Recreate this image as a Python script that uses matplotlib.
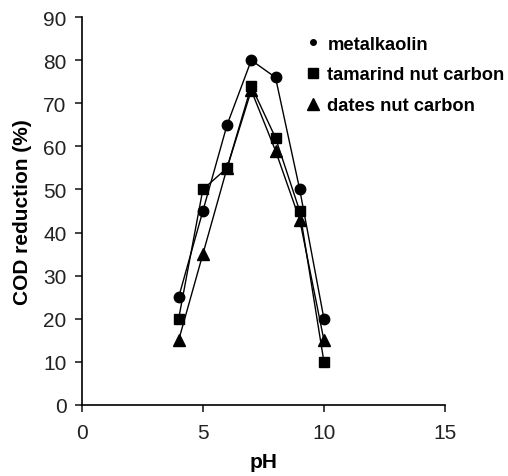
import matplotlib.pyplot as plt
from matplotlib.lines import Line2D

plt.rcParams['font.family'] = ['Liberation Sans', 'DejaVu Sans']

ph = [4, 5, 6, 7, 8, 9, 10]
metalkaolin = [25, 45, 65, 80, 76, 50, 20]
tamarind = [20, 50, 55, 74, 62, 45, 10]
dates = [15, 35, 55, 73, 59, 43, 15]

fig = plt.figure(figsize=(5.08, 4.77), dpi=100)
ax = fig.add_axes([0.161, 0.149, 0.715, 0.813])

ax.plot(ph, metalkaolin, color='black', lw=1, marker='o', ms=7.5)
ax.plot(ph, tamarind, color='black', lw=1, marker='s', ms=7)
ax.plot(ph, dates, color='black', lw=1, marker='^', ms=8)

ax.set_xlim(0, 15)
ax.set_ylim(0, 90)
ax.set_xticks([0, 5, 10, 15])
ax.set_yticks(range(0, 91, 10))
for s in ['top', 'right']:
    ax.spines[s].set_visible(False)
for s in ['left', 'bottom']:
    ax.spines[s].set_linewidth(1.2)
ax.tick_params(direction='out', length=5, width=1.2, labelsize=15, colors='#222222')
ax.tick_params(axis='x', pad=8)
ax.tick_params(axis='y', pad=6)

ax.set_xlabel('pH', fontsize=15, fontweight='bold', labelpad=7)
ax.set_ylabel('COD reduction (%)', fontsize=15, fontweight='bold', labelpad=8)

handles = [
    Line2D([], [], color='black', ls='none', marker='o', ms=4),
    Line2D([], [], color='black', ls='none', marker='s', ms=7),
    Line2D([], [], color='black', ls='none', marker='^', ms=8),
]
labels = ['metalkaolin', 'tamarind nut carbon', 'dates nut carbon']
leg = ax.legend(handles, labels, loc='upper left', bbox_to_anchor=(0.575, 0.995),
                frameon=False, handlelength=0.6, handletextpad=0.5,
                labelspacing=0.75, prop={'weight': 'bold', 'size': 13.2})

fig.savefig('out.png', dpi=100)
